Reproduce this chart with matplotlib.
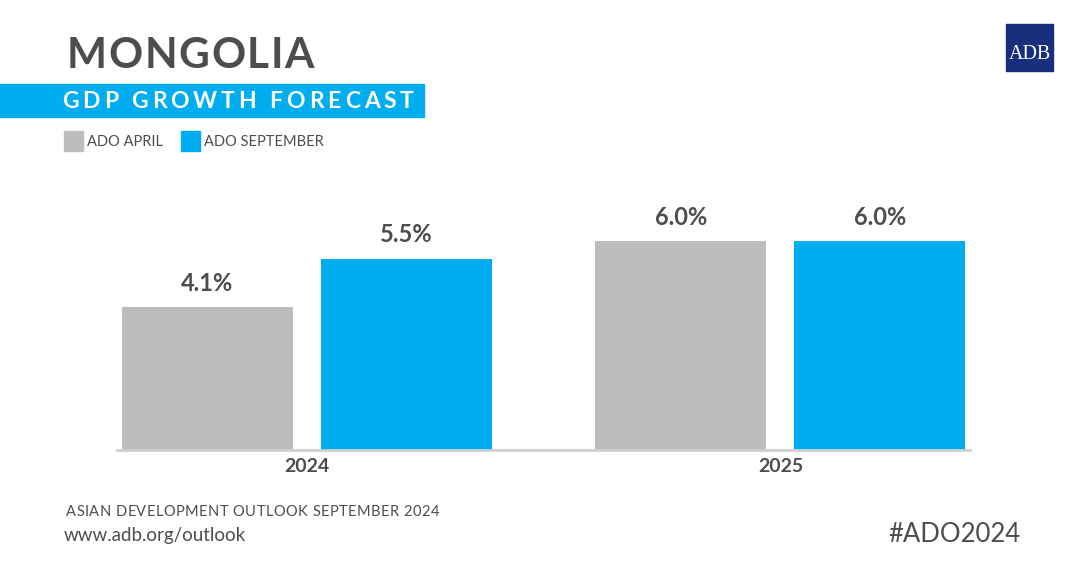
import matplotlib
matplotlib.use("Agg")
import matplotlib.pyplot as plt
from matplotlib.patches import Rectangle

years = ["2024", "2025"]
series_names = ["ADO APRIL", "ADO SEPTEMBER"]
ado_april = [4.1, 6.0]
ado_september = [5.5, 6.0]

GREY = "#bdbcbf"
BLUE = "#00aeef"
DARK = "#4d4d4f"
NAVY = "#172f7d"
W, H = 1080, 567

plt.rcParams['font.family'] = ['Lato', 'DejaVu Sans']

fig = plt.figure(figsize=(10.8, 5.67), dpi=100)
fig.patch.set_facecolor("white")
rend = fig.canvas.get_renderer()


def text_w(s, **kw):
    t = fig.text(0, 0, s + "I", **kw)
    t2 = fig.text(0, 0, "I", **kw)
    w = t.get_window_extent(rend).width - t2.get_window_extent(rend).width
    t.remove()
    t2.remove()
    return w


def tracked(px, py, s, track, **kw):
    # draw text letter by letter with extra spacing (px, py: pixels from top-left, baseline)
    for i, ch in enumerate(s):
        if ch == " ":
            continue
        x = px + text_w(s[:i], **kw) + i * track
        fig.text(x / W, 1 - py / H, ch, va="baseline", ha="left", **kw)


# bar area: baseline at y=450px, 0..7 units
ax = fig.add_axes([117/W, 117/H, 853/W, 243.6/H])
x = range(len(years))
off = 0.21
w = 0.361
b1 = ax.bar([i - off for i in x], ado_april, w, color=GREY)
b2 = ax.bar([i + off for i in x], ado_september, w, color=BLUE)
for bars in (b1, b2):
    for r in bars:
        ax.annotate(f"{r.get_height():.1f}%", (r.get_x() + r.get_width()/2, r.get_height()),
                    xytext=(0, 9), textcoords="offset points", ha="center", va="bottom",
                    fontsize=17, fontweight="bold", color=DARK)
ax.set_xlim(-0.4, 1.4)
ax.set_ylim(0, 7)
ax.set_xticks(list(x))
ax.set_xticklabels(years, fontsize=14, fontweight="bold", color=DARK)
ax.tick_params(axis="x", length=0, pad=6)
ax.set_yticks([])
for s in ("top", "right", "left"):
    ax.spines[s].set_visible(False)
ax.spines["bottom"].set_color("#cfcfd1")
ax.spines["bottom"].set_linewidth(2)

# header
tracked(67, 68, "MONGOLIA", 1.6, fontsize=30.5, fontweight="bold", color=DARK)
fig.patches.append(Rectangle((0, 1 - 117/H), 424/W, 33/H, transform=fig.transFigure,
                             color=BLUE, zorder=0))
tracked(62, 108, "GDP GROWTH FORECAST", 3.9, fontsize=16.5, fontweight="bold", color="white")

# legend
cols = [GREY, BLUE]
lx = [64, 181]
for c, px, name in zip(cols, lx, series_names):
    fig.patches.append(Rectangle((px/W, 1 - 151/H), 19/W, 20/H,
                                 transform=fig.transFigure, color=c))
    fig.text((px + 23)/W, 1 - 146/H, name, fontsize=10.5, color=DARK, va="baseline")

# ADB logo
fig.patches.append(Rectangle((1006/W, 1 - 71/H), 47/W, 47/H,
                             transform=fig.transFigure, color=NAVY))
fig.text(1030/W, 1 - 59/H, "ADB", fontsize=14.5, color="white", ha="center", va="baseline",
         family=["Liberation Serif", "DejaVu Serif"])

# footer
tracked(66, 516, "ASIAN DEVELOPMENT OUTLOOK SEPTEMBER 2024", 0.45, fontsize=10.5, color=DARK)
fig.text(64/W, 1 - 541/H, "www.adb.org/outlook", fontsize=13.5, color=DARK, va="baseline")
fig.text(1020/W, 1 - 542/H, "#ADO2024", fontsize=18.5, color=DARK, ha="right", va="baseline")

fig.savefig("out.png", dpi=100, facecolor="white")
